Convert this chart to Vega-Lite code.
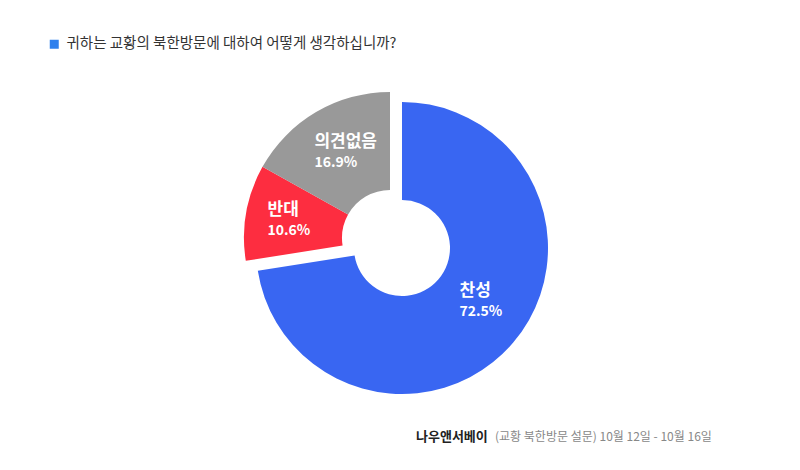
{
  "$schema": "https://vega.github.io/schema/vega-lite/v6.json",
  "width": 800,
  "height": 470,
  "autosize": {"type": "fit", "contains": "padding"},
  "padding": 0,
  "background": "white",
  "config": {"view": {"stroke": null}, "font": "Noto Sans CJK KR"},
  "data": {"values": [
    {"category": "찬성", "value": 0.725},
    {"category": "반대", "value": 0.106},
    {"category": "의견없음", "value": 0.169}
  ]},
  "encoding": {
    "theta": {"field": "value", "type": "quantitative", "stack": true, "scale": {"range": [4.5553, 10.8385]}},
    "order": {"field": "value", "sort": "ascending"}
  },
  "layer": [
    {
      "mark": {"type": "arc", "innerRadius": 48, "outerRadius": 146, "xOffset": 2, "yOffset": 13},
      "encoding": {
        "color": {"field": "category", "type": "nominal", "scale": {"domain": ["찬성", "반대", "의견없음"], "range": ["#3966f2", "#fd2d40", "#999999"]}, "legend": null},
        "opacity": {"condition": {"test": "datum.category === '찬성'", "value": 1}, "value": 0}
      }
    },
    {
      "mark": {"type": "arc", "innerRadius": 48, "outerRadius": 146, "xOffset": -10, "yOffset": 3, "strokeWidth": 0},
      "encoding": {
        "color": {"field": "category", "type": "nominal", "scale": {"domain": ["찬성", "반대", "의견없음"], "range": ["#3966f2", "#fd2d40", "#999999"]}, "legend": null},
        "opacity": {"condition": {"test": "datum.category !== '찬성'", "value": 1}, "value": 0},
        "stroke": {
          "datum": "귀하는 교황의 북한방문에 대하여 어떻게 생각하십니까?",
          "type": "nominal",
          "scale": {"range": ["#2f80ed"]},
          "legend": {
            "orient": "none", "legendX": 47, "legendY": 37, "title": null, "padding": 0,
            "symbolType": "square", "symbolSize": 81, "symbolFillColor": "#2f80ed", "symbolStrokeWidth": 0,
            "labelFont": "Noto Sans CJK KR", "labelFontSize": 14.5, "labelColor": "#333333", "labelOffset": 5, "labelLimit": 0
          }
        }
      }
    },
    {
      "mark": {"type": "text", "radius": 98, "xOffset": 2, "yOffset": 13, "align": "left", "dx": -17, "dy": -21, "fontSize": 17, "fontWeight": "bold"},
      "encoding": {
        "text": {"field": "category", "type": "nominal"},
        "opacity": {"condition": {"test": "datum.category === '찬성'", "value": 1}, "value": 0},
        "fill": {
          "datum": "(교황 북한방문 설문) 10월 12일 - 10월 16일",
          "type": "nominal",
          "scale": {"range": ["#ffffff"]},
          "legend": {
            "orient": "none", "legendX": 416, "legendY": 431, "title": "나우앤서베이", "titleOrient": "left", "padding": 0,
            "titleFont": "Noto Sans CJK KR", "titleFontSize": 13, "titleFontWeight": "bold", "titleColor": "#222222", "titlePadding": 0,
            "symbolType": "circle", "symbolSize": 4, "symbolOpacity": 0, "symbolStrokeWidth": 0,
            "labelFont": "Noto Sans CJK KR", "labelFontSize": 12, "labelColor": "#888888", "labelOffset": -5, "labelLimit": 0
          }
        }
      }
    },
    {
      "mark": {"type": "text", "radius": 98, "xOffset": 2, "yOffset": 13, "align": "left", "dx": -17, "dy": 0, "fontSize": 14, "fontWeight": "bold"},
      "encoding": {
        "text": {"field": "value", "type": "quantitative", "format": ".1%"},
        "opacity": {"condition": {"test": "datum.category === '찬성'", "value": 1}, "value": 0},
        "fill": {"datum": "(교황 북한방문 설문) 10월 12일 - 10월 16일", "type": "nominal"}
      }
    },
    {
      "mark": {"type": "text", "radius": 98, "xOffset": -10, "yOffset": 3, "align": "left", "dx": -26, "dy": -11, "fontSize": 17, "fontWeight": "bold"},
      "encoding": {
        "text": {"field": "category", "type": "nominal"},
        "opacity": {"condition": {"test": "datum.category !== '찬성'", "value": 1}, "value": 0},
        "fill": {"datum": "(교황 북한방문 설문) 10월 12일 - 10월 16일", "type": "nominal"}
      }
    },
    {
      "mark": {"type": "text", "radius": 98, "xOffset": -10, "yOffset": 3, "align": "left", "dx": -26, "dy": 10, "fontSize": 14, "fontWeight": "bold"},
      "encoding": {
        "text": {"field": "value", "type": "quantitative", "format": ".1%"},
        "opacity": {"condition": {"test": "datum.category !== '찬성'", "value": 1}, "value": 0},
        "fill": {"datum": "(교황 북한방문 설문) 10월 12일 - 10월 16일", "type": "nominal"}
      }
    }
  ]
}
